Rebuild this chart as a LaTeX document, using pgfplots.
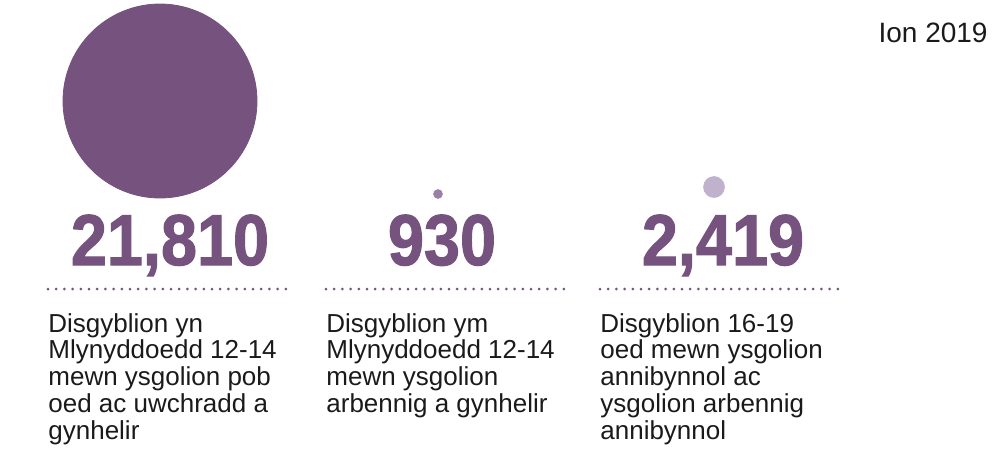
\documentclass[border=0pt]{standalone}
\usepackage{pgfplots}
\pgfplotsset{compat=1.18}
\usepackage{fontspec}
\setmainfont{Liberation Sans}
\newfontfamily\heavyfont[FakeBold=1.6]{Liberation Sans Bold}
\definecolor{bigpurple}{HTML}{76527F}
\definecolor{midpurple}{HTML}{9A80A6}
\definecolor{lightpurple}{HTML}{C0B1CD}
\definecolor{txt}{HTML}{1A1A1A}
\newcommand\lines[1]{\begin{tabular}[t]{@{}l@{}}#1\end{tabular}}
\begin{document}
\begin{tikzpicture}
\begin{axis}[
  scale only axis, width=496pt, height=228pt,
  xmin=0, xmax=992, ymin=0, ymax=456, y dir=reverse,
  hide axis, clip=false,
]
% page frame (keeps the picture at the reference's size)
\path (axis cs:0,0) rectangle (axis cs:992,456);

% bubbles: radius proportional to value, bottoms aligned
\addplot[only marks, mark=*, mark size=48.5pt, color=bigpurple, mark options={draw=none}]
  coordinates {(160,101)};
\addplot[only marks, mark=*, mark size=2.2pt, color=midpurple, mark options={draw=none}]
  coordinates {(438,194)};
\addplot[only marks, mark=*, mark size=5.2pt, color=lightpurple, mark options={draw=none}]
  coordinates {(714,187)};

% big numbers
\tikzset{num/.style={anchor=base, inner sep=0, text=bigpurple, font=\fontsize{36}{36}\heavyfont}}
\node[num] at (axis cs:170,265) {\scalebox{0.9}[1]{21,810}};
\node[num] at (axis cs:442,265) {\scalebox{0.9}[1]{930}};
\node[num] at (axis cs:723,265) {\scalebox{0.9}[1]{2,419}};

% dotted rules
\tikzset{dotrule/.style={bigpurple, line width=1.5pt, line cap=round, dash pattern=on 0pt off 4.1pt}}
\draw[dotrule] (axis cs:48,289) -- (axis cs:292,289);
\draw[dotrule] (axis cs:326,289) -- (axis cs:570,289);
\draw[dotrule] (axis cs:600,289) -- (axis cs:843,289);

% labels
\tikzset{lbl/.style={anchor=base west, inner sep=0, text=txt,
  font=\fontsize{13}{13.4}\selectfont}}
\node[lbl] at (axis cs:48,332) {\lines{Disgyblion yn\\Mlynyddoedd 12-14\\mewn ysgolion pob\\oed ac uwchradd a\\gynhelir}};
\node[lbl] at (axis cs:326,332) {\lines{Disgyblion ym\\Mlynyddoedd 12-14\\mewn ysgolion\\arbennig a gynhelir}};
\node[lbl] at (axis cs:600,332) {\lines{Disgyblion 16-19\\oed mewn ysgolion\\annibynnol ac\\ysgolion arbennig\\annibynnol}};

\node[anchor=base east, inner sep=0, text=txt, font=\fontsize{14}{14}\selectfont]
  at (axis cs:988,42) {Ion 2019};
\end{axis}
\end{tikzpicture}
\end{document}
